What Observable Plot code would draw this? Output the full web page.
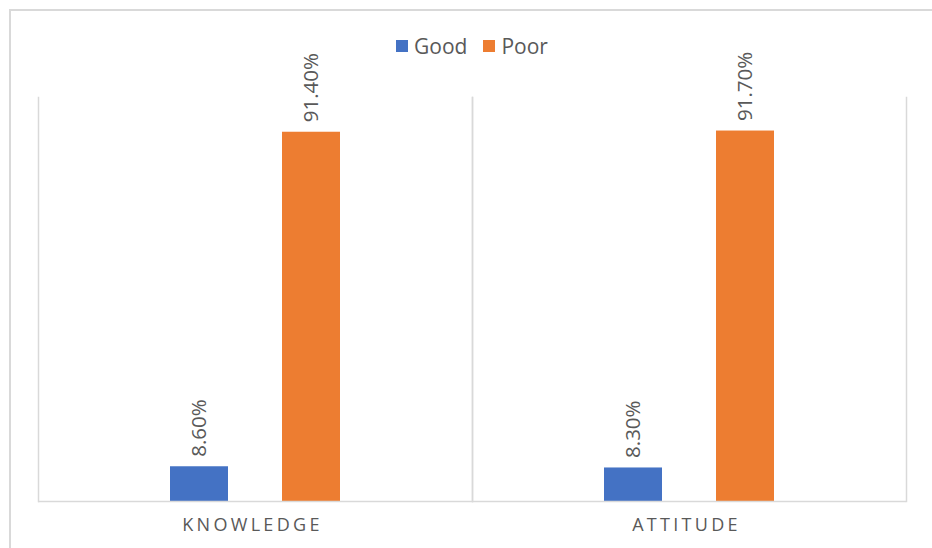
<!DOCTYPE html>
<html>
<head>
<meta charset="utf-8">
<script src="https://cdn.jsdelivr.net/npm/d3@7"></script>
<script src="https://cdn.jsdelivr.net/npm/@observablehq/plot@0.6"></script>
<style>
  html, body { margin: 0; padding: 0; background: #fff; }
  body { width: 932px; height: 548px; overflow: hidden; position: relative; font-family: "Open Sans", sans-serif; }
  #frame { position: absolute; left: 9px; top: 9px; width: 1200px; height: 1200px; border-top: 2px solid #d9d9d9; border-left: 2px solid #d9d9d9; pointer-events: none; }
  #legend { height: 70px; display: flex; justify-content: center; align-items: flex-start; padding-left: 12px; padding-top: 31px; box-sizing: border-box; color: #595959; font-size: 21px; line-height: 30px; }
  .item { display: flex; align-items: center; margin: 0 8px; }
  .sw { width: 12px; height: 12px; margin-right: 6px; }
  svg g[aria-label^="fx-axis"] text { letter-spacing: 3.3px; }
  #chart svg { overflow: visible; }
</style>
</head>
<body>
<div id="frame"></div>
<div id="legend"></div>
<div id="chart"></div>
<script>
const categories = ["KNOWLEDGE", "ATTITUDE"];
const series = ["Good", "Poor"];
const good = [8.6, 8.3];
const poor = [91.4, 91.7];
const colors = ["#4472C4", "#ED7D31"];

const rows = categories.flatMap((c, i) => [
  {cat: c, s: series[0], v: good[i]},
  {cat: c, s: series[1], v: poor[i]}
]);

const legend = document.getElementById("legend");
series.forEach((s, i) => {
  const it = document.createElement("div");
  it.className = "item";
  const sw = document.createElement("div");
  sw.className = "sw";
  sw.style.background = colors[i];
  const t = document.createElement("span");
  t.textContent = s;
  it.appendChild(sw); it.appendChild(t);
  legend.appendChild(it);
});

const chart = Plot.plot({
  width: 932, height: 478,
  marginTop: 27, marginBottom: 47, marginLeft: 38, marginRight: 26,
  style: {fontFamily: "Open Sans, sans-serif", color: "#595959", background: "transparent", overflow: "visible"},
  fx: {domain: categories, padding: 0, label: null, tickSize: 0, tickPadding: 17},
  x: {domain: series, paddingInner: 0.478, paddingOuter: 1.16, axis: null},
  y: {domain: [0, 100], axis: null},
  color: {domain: series, range: colors},
  marks: [
    Plot.frame({anchor: "left", stroke: "#d9d9d9", strokeWidth: 1.5}),
    Plot.frame({anchor: "right", stroke: "#d9d9d9", strokeWidth: 1.5}),
    Plot.barY(rows, {fx: "cat", x: "s", y: "v", fill: "s"}),
    Plot.ruleY([0], {stroke: "#d9d9d9", strokeWidth: 1.5}),
    Plot.text(rows, {fx: "cat", x: "s", y: "v", text: d => d.v.toFixed(2) + "%", rotate: -90, textAnchor: "start", dy: -10, fill: "#595959", fontSize: 20.5})
  ]
});
chart.querySelectorAll('g[aria-label^="fx-axis"] text').forEach(t => { t.style.fontSize = "18px"; t.setAttribute("dx", "-3"); });
document.getElementById("chart").appendChild(chart);
</script>
</body>
</html>
